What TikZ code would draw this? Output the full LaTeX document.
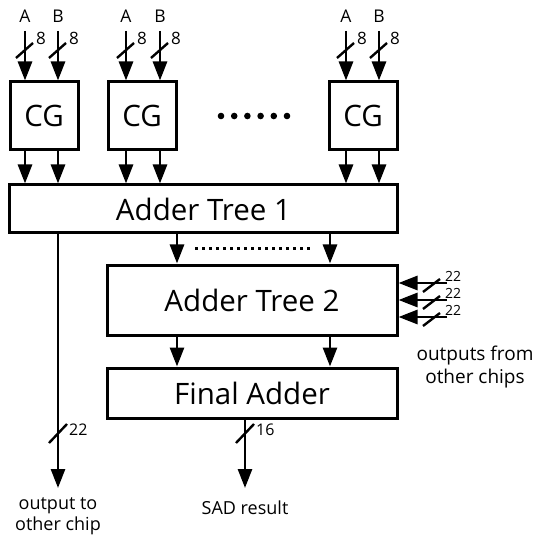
\documentclass[tikz,border=0pt]{standalone}
\usepackage{fontspec}
\setmainfont{Open Sans}
\usetikzlibrary{arrows.meta,calc}
\begin{document}
\begin{tikzpicture}[x=1pt,y=-1pt,
  blk/.style={draw,line width=3pt,inner sep=0pt,font=\fontsize{29.5}{30}\selectfont},
  sig/.style={line width=2.8pt,-{Triangle[length=19pt,width=14pt]}},
  slashln/.style={line width=2.4pt},
  lbl/.style={font=\fontsize{18}{22}\selectfont,inner sep=0pt,align=center},
  wlbl/.style={font=\fontsize{17}{18}\selectfont,inner sep=0pt,anchor=west},
  slbl/.style={font=\fontsize{14}{14}\selectfont,inner sep=0pt,anchor=west}]
\useasboundingbox (0,0) rectangle (542,535);
% blocks
\node[blk,minimum width=68pt,minimum height=68pt] (cg1) at (44,116) {CG};
\node[blk,minimum width=68pt,minimum height=68pt] (cg2) at (142,116) {CG};
\node[blk,minimum width=68pt,minimum height=68pt] (cg3) at (363,116) {CG};
\node[blk,minimum width=388pt,minimum height=48pt] (at1) at (203.5,209) {Adder Tree 1};
\node[blk,minimum width=290pt,minimum height=70pt] (at2) at (252,300) {Adder Tree 2};
\node[blk,minimum width=290pt,minimum height=50pt] (fa) at (252,393) {Final Adder};
% ellipsis dots
\foreach \i in {0,...,5} \fill (221+13.2*\i,116) circle (3.3pt);
% inputs
\foreach \n/\x/\c/\t in {a1/25/cg1/A,b1/58/cg1/B,a2/126/cg2/A,b2/160/cg2/B,a3/346/cg3/A,b3/379/cg3/B}{
  \node[lbl,font=\fontsize{17.5}{18}\selectfont] (\n) at (\x,16) {\t};
  \coordinate (\n s) at (\x,31);
  \draw[sig] (\n s) -- (\n s |- \c.north);
  \draw[slashln] (\x-9,58) -- (\x+8,43);
  \node[wlbl] (\n w) at (\x+11,38) {8};
}
% CG to adder tree 1
\foreach \x/\c in {25/cg1,58/cg1,126/cg2,160/cg2,346/cg3,379/cg3}{
  \coordinate (o\x) at (\x,150);
  \draw[sig] (o\x) -- (o\x |- at1.north);
}
% AT1 to AT2
\coordinate (p1) at (177,233);
\coordinate (p2) at (330,233);
\draw[sig] (p1) -- (p1 |- at2.north);
\draw[sig] (p2) -- (p2 |- at2.north);
\draw[line width=3pt,dash pattern=on 2.6pt off 4.4pt] (195,249) -- (313,249);
% AT2 to FA
\coordinate (q1) at (177,335);
\coordinate (q2) at (330,335);
\draw[sig] (q1) -- (q1 |- fa.north);
\draw[sig] (q2) -- (q2 |- fa.north);
% side inputs
\foreach \y/\k in {283/1,300/2,317/3}{
  \coordinate (r\k) at (447,\y);
  \draw[sig] (r\k) -- (r\k -| at2.east);
  \draw[slashln] (423,\y+9) -- (440,\y-4);
  \node[slbl] (n\k) at (445,\y-7) {22};
}
\node[lbl,font=\fontsize{19}{23}\selectfont] (oth) at (475,367) {outputs from\\other chips};
% left output
\coordinate (l1) at (58,233);
\coordinate (l2) at (58,488);
\draw[sig] (l1) -- (l2);
\draw[slashln] (49,443) -- (67,424);
\node[slbl,font=\fontsize{16}{16}\selectfont] (l22) at (69,430) {22};
\node[lbl,font=\fontsize{18}{21.5}\selectfont] (oc) at (58,516) {output to\\other chip};
% final output
\coordinate (s2) at (245,488);
\draw[sig] (fa.south -| s2) -- (s2);
\draw[slashln] (236,443) -- (254,424);
\node[slbl,font=\fontsize{16}{16}\selectfont] (l16) at (256,430) {16};
\node[lbl] (sad) at (245,508) {SAD result};
\end{tikzpicture}
\end{document}
